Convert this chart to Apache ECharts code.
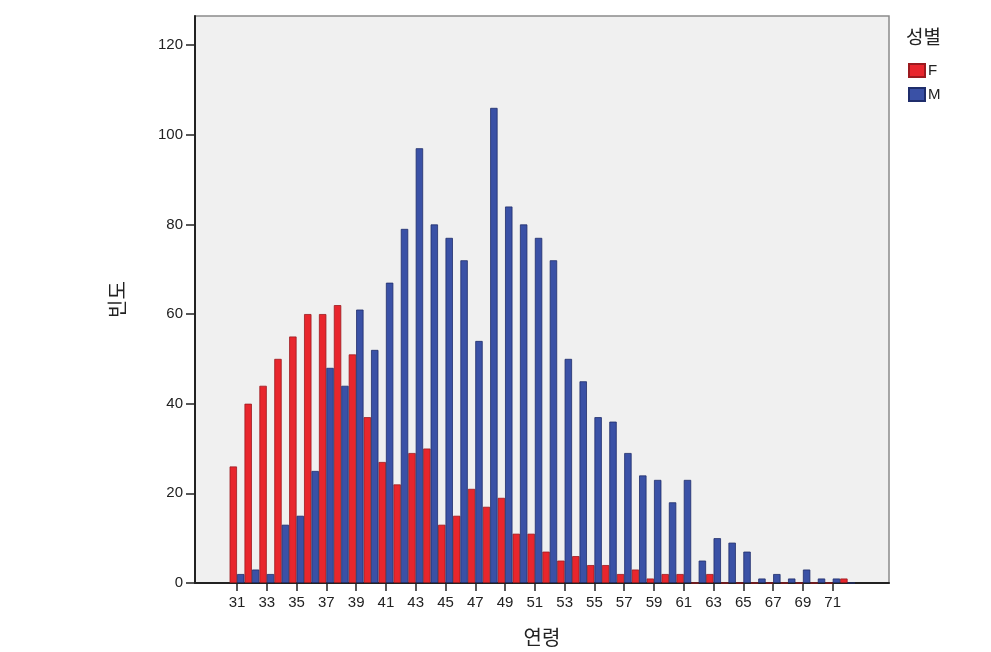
<!DOCTYPE html>
<html>
<head>
<meta charset="utf-8">
<script src="https://cdn.jsdelivr.net/npm/echarts@6/dist/echarts.min.js"></script>
<style>html,body{margin:0;padding:0;background:#fff}#c{width:991px;height:652px}</style>
</head>
<body>
<div id="c"></div>
<script>
const ages = [31,32,33,34,35,36,37,38,39,40,41,42,43,44,45,46,47,48,49,50,51,52,53,54,55,56,57,58,59,60,61,62,63,64,65,66,67,68,69,70,71,72];
const female = [26,40,44,50,55,60,60,62,51,37,27,22,29,30,13,15,21,17,19,11,11,7,5,6,4,4,2,3,1,2,2,0,2,0,0,0,0,0,0,0,0,1];
const male = [2,3,2,13,15,25,48,44,61,52,67,79,97,80,77,72,54,106,84,80,77,72,50,45,37,36,29,24,23,18,23,5,10,9,7,1,2,1,3,1,1,0];
const xTicks = [31,33,35,37,39,41,43,45,47,49,51,53,55,57,59,61,63,65,67,69,71];
const yTicks = [0,20,40,60,80,100,120];
const seriesNames = ['F','M'];
const legendTitle = '성별';
const xName = '연령';
const yName = '빈도';

const chart = echarts.init(document.getElementById('c'));
const latin = '"Liberation Sans", Arial, sans-serif';
const kr = '"Noto Sans CJK KR", sans-serif';
chart.setOption({
  animation: false,
  backgroundColor: '#ffffff',
  title: {
    text: legendTitle, left: 901, top: 22,
    textStyle: {fontFamily: kr, fontSize: 19, fontWeight: 'normal', color: '#222'}
  },
  legend: {
    orient: 'vertical', left: 903, top: 58, itemGap: 9,
    itemWidth: 16, itemHeight: 13, icon: 'rect',
    textStyle: {fontFamily: latin, fontSize: 15, color: '#222', padding: [0,0,0,-2]},
    data: seriesNames
  },
  grid: {
    left: 195, right: 102, top: 16, bottom: 69,
    show: true, backgroundColor: '#f0f0f0', borderColor: '#8a8a8a', borderWidth: 1.5
  },
  xAxis: {
    type: 'value', min: 28.18, max: 74.78,
    name: xName, nameLocation: 'middle', nameGap: 44,
    nameTextStyle: {fontFamily: kr, fontSize: 20, color: '#222'},
    axisLine: {show: true, lineStyle: {color: '#222', width: 2}},
    axisTick: {show: true, length: 8, lineStyle: {color: '#222', width: 1.5}, customValues: xTicks},
    axisLabel: {fontFamily: latin, fontSize: 15, color: '#222', margin: 12, customValues: xTicks},
    splitLine: {show: false}
  },
  yAxis: {
    type: 'value', min: 0, max: 126.5,
    name: yName, nameLocation: 'middle', nameGap: 68, nameRotate: 90,
    nameTextStyle: {fontFamily: kr, fontSize: 20, color: '#222'},
    axisLine: {show: true, lineStyle: {color: '#222', width: 2}},
    axisTick: {show: true, length: 9, lineStyle: {color: '#222', width: 1.5}, customValues: yTicks},
    axisLabel: {fontFamily: latin, fontSize: 15, color: '#222', margin: 12, customValues: yTicks},
    splitLine: {show: false}
  },
  series: [
    {
      name: seriesNames[0], type: 'bar', barWidth: 7.4, barGap: '0%',
      itemStyle: {color: '#e8262d', borderColor: '#9c1a1f', borderWidth: 0.8},
      data: ages.map((a, i) => [a, female[i]])
    },
    {
      name: seriesNames[1], type: 'bar', barWidth: 7.4, barGap: '0%',
      itemStyle: {color: '#3a51a6', borderColor: '#1f2d6b', borderWidth: 0.8},
      data: ages.map((a, i) => [a, male[i]])
    }
  ]
});
</script>
</body>
</html>
